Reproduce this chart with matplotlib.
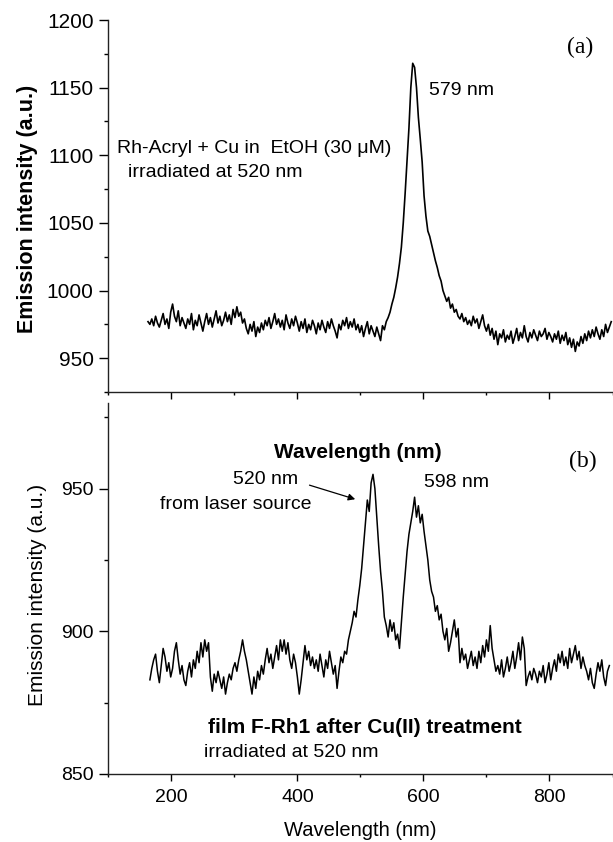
import numpy as np
import matplotlib
matplotlib.use("Agg")
import matplotlib.pyplot as plt
from matplotlib.ticker import MultipleLocator

plt.rcParams['font.family'] = ['Liberation Sans', 'DejaVu Sans']

# panel (a): Rh-Acryl + Cu in EtOH, sampled every 3 nm from 163 nm
wl_a = np.arange(163, 899, 3)
int_a = [
    977, 975, 979, 974, 981, 976, 973, 978, 983, 975,
    979, 972, 984, 990, 981, 977, 985, 974, 980, 976,
    972, 979, 975, 983, 971, 978, 974, 982, 976, 970,
    977, 983, 975, 980, 973, 979, 985, 976, 981, 974,
    978, 984, 977, 982, 975, 986, 980, 988, 981, 984,
    976, 979, 972, 968, 975, 970, 977, 966, 973, 969,
    976, 971, 978, 974, 980, 972, 977, 983, 975, 979,
    973, 978, 971, 982, 976, 972, 979, 974, 981, 976,
    970, 977, 972, 979, 969, 975, 971, 978, 974, 968,
    976, 971, 978, 973, 969, 977, 972, 979, 974, 970,
    965, 975, 971, 978, 974, 980, 972, 977, 973, 979,
    971, 975, 969, 974, 966, 972, 977, 968, 974, 970,
    966, 973, 968, 963, 974, 971, 977, 980, 984, 990,
    995, 1002, 1010, 1020, 1032, 1050, 1072, 1096, 1120, 1150,
    1168, 1165, 1150, 1128, 1112, 1095, 1070, 1055, 1044, 1040,
    1034, 1028, 1022, 1017, 1011, 1007, 1000, 996, 992, 995,
    987, 990, 984, 986, 981, 979, 983, 977, 980, 975,
    978, 974, 981, 976, 979, 972, 977, 982, 974, 970,
    975, 967, 972, 964, 970, 960, 968, 965, 971, 962,
    967, 964, 970, 961, 966, 972, 963, 969, 965, 974,
    966, 962, 969, 965, 971, 967, 963, 970, 966, 968,
    972, 964, 969, 966, 962, 968, 964, 970, 961, 967,
    963, 969, 960, 965, 958, 964, 955, 962, 959, 966,
    961, 968, 963, 970, 965, 971, 966, 973, 968, 964,
    971, 966, 975, 969, 973, 977,
]

# panel (b): film F-Rh1 after Cu(II), sampled every 3 nm from 166 nm
wl_b = np.arange(166, 896, 3)
int_b = [
    883, 887, 890, 892, 886, 882, 888, 894, 891, 886,
    889, 884, 887, 893, 896, 890, 885, 888, 883, 881,
    886, 889, 884, 890, 887, 893, 889, 896, 891, 897,
    893, 896, 884, 879, 885, 882, 886, 883, 880, 884,
    878, 882, 885, 883, 887, 889, 886, 890, 893, 897,
    893, 890, 886, 882, 878, 884, 880, 886, 883, 888,
    885, 890, 894, 889, 892, 887, 891, 895, 890, 897,
    893, 897, 892, 896, 890, 887, 892, 889, 884, 878,
    883, 889, 895, 890, 893, 888, 891, 887, 890, 886,
    892, 888, 884, 890, 887, 893, 889, 885, 888, 880,
    886, 891, 889, 893, 892, 897, 900, 903, 907, 905,
    911, 916, 922, 930, 938, 946, 942, 952, 955, 950,
    940, 930, 921, 914, 905, 902, 898, 904, 900, 903,
    897, 899, 894, 903, 912, 920, 928, 934, 938, 942,
    947, 940, 944, 938, 941, 935, 930, 925, 918, 914,
    912, 907, 909, 904, 906, 900, 897, 901, 893, 896,
    900, 904, 898, 901, 889, 894, 890, 892, 887, 890,
    893, 888, 891, 887, 893, 889, 895, 891, 897, 893,
    902, 894, 890, 886, 888, 885, 890, 884, 887, 891,
    886, 889, 893, 887, 891, 896, 890, 898, 894, 881,
    884, 886, 883, 887, 885, 882, 886, 884, 888, 882,
    885, 889, 883, 887, 890, 886, 892, 889, 893, 888,
    891, 887, 894, 889, 892, 895, 890, 893, 887, 891,
    888, 886, 883, 887, 882, 880, 885, 889, 886, 890,
    884, 881, 886, 888,
]

W, H = 613, 842
fig = plt.figure(figsize=(W / 100, H / 100), dpi=100)


def px_axes(left, top, right, bottom):
    return fig.add_axes([left / W, 1 - bottom / H, (right - left) / W, (bottom - top) / H])


def style(ax, lsize):
    ax.spines['top'].set_visible(False)
    ax.spines['right'].set_visible(False)
    for s in ('left', 'bottom'):
        ax.spines[s].set_linewidth(1.0)
        ax.spines[s].set_color('#222222')
    ax.set_xlim(100, 900)
    ax.xaxis.set_major_locator(MultipleLocator(200))
    ax.xaxis.set_minor_locator(MultipleLocator(100))
    ax.tick_params(axis='y', which='major', direction='out', length=6.5, width=1.0, pad=4, labelsize=lsize)
    ax.tick_params(axis='y', which='minor', direction='out', length=3, width=1.0)
    ax.tick_params(axis='x', which='major', direction='out', length=5, width=1.0, pad=6, labelsize=lsize)
    ax.tick_params(axis='x', which='minor', direction='out', length=2.5, width=1.0)


# top panel
ax1 = px_axes(108.3, 20, 612.5, 392)
ax1.plot(wl_a, int_a, color='black', lw=1.2)
ax1.set_ylim(925, 1200)
ax1.yaxis.set_major_locator(MultipleLocator(50))
ax1.yaxis.set_minor_locator(MultipleLocator(25))
style(ax1, 15)
ax1.text(849, 1180, '(a)', family='Liberation Serif', fontsize=17, ha='center', va='center')
ax1.text(661, 1148, '579 nm', fontsize=14, ha='center', va='center')
ax1.text(331, 1105, 'Rh-Acryl + Cu in  EtOH (30 \u03bcM)', fontsize=14, ha='center', va='center')
ax1.text(269, 1087, 'irradiated at 520 nm', fontsize=14, ha='center', va='center')

# bottom panel
ax2 = px_axes(108.3, 403, 612.5, 774)
ax2.plot(wl_b, int_b, color='black', lw=1.1)
ax2.set_ylim(850, 980)
ax2.yaxis.set_major_locator(MultipleLocator(50))
ax2.yaxis.set_minor_locator(MultipleLocator(25))
style(ax2, 14)
ax2.text(853, 959.6, '(b)', family='Liberation Serif', fontsize=17, ha='center', va='center')
ax2.text(350, 953.3, '520 nm', fontsize=14, ha='center', va='center')
ax2.text(302, 944.5, 'from laser source', fontsize=14, ha='center', va='center')
ax2.annotate('', xy=(496, 946), xytext=(415, 951.5),
             arrowprops=dict(arrowstyle='-|>', color='black', lw=0.9, mutation_scale=10))
ax2.text(652, 952.2, '598 nm', fontsize=14, ha='center', va='center')
ax2.text(507, 866.2, 'film F-Rh1 after Cu(II) treatment', fontsize=15, fontweight='bold',
         ha='center', va='center')
ax2.text(391, 857.4, 'irradiated at 520 nm', fontsize=14, ha='center', va='center')

# axis titles
fig.text(358 / W, 1 - 452 / H, 'Wavelength (nm)', fontsize=15, fontweight='bold',
         ha='center', va='center')
fig.text(27.5 / W, 1 - 209 / H, 'Emission intensity (a.u.)', fontsize=15.5, fontweight='bold',
         rotation=90, ha='center', va='center')
fig.text(360 / W, 1 - 830 / H, 'Wavelength (nm)', fontsize=14.5, ha='center', va='center')
fig.text(38 / W, 1 - 595 / H, 'Emission intensity (a.u.)', fontsize=15,
         rotation=90, ha='center', va='center')

fig.savefig('out.png', dpi=100)
